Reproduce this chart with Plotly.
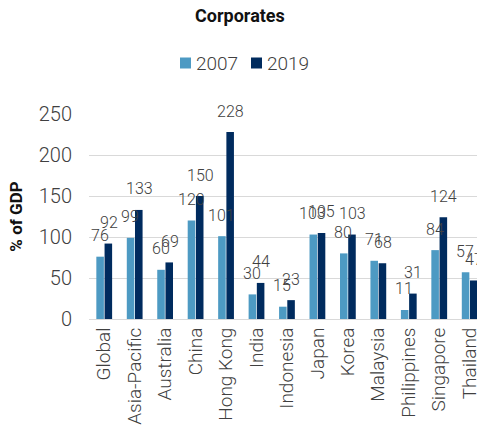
import plotly.graph_objects as go

categories = ["Global", "Asia-Pacific", "Australia", "China", "Hong Kong", "India",
              "Indonesia", "Japan", "Korea", "Malaysia", "Philippines", "Singapore", "Thailand"]
values_2007 = [76, 99, 60, 120, 101, 30, 15, 103, 80, 71, 11, 84, 57]
values_2019 = [92, 133, 69, 150, 228, 44, 23, 105, 103, 68, 31, 124, 47]
y_ticks = [0, 50, 100, 150, 200, 250]
series_names = ["2007", "2019"]

COL_2007 = "#4d9ac3"
COL_2019 = "#002b5e"
TEXT = "#404040"
FONT = "Roboto"
LIGHT = 300

# plot-area geometry (pixels)
FIG_W, FIG_H = 477, 436
L, R, T, B = 89, 0, 114, 117
PW, PH = FIG_W - L - R, FIG_H - T - B
x_lo, x_hi = -0.5, 12.24


def px_to_paper(px, py):
    return (px - L) / PW, (FIG_H - B - py) / PH


fig = go.Figure()
for name, vals, col in zip(series_names, [values_2007, values_2019], [COL_2007, COL_2019]):
    fig.add_trace(go.Bar(
        name=name, x=categories, y=vals, showlegend=False,
        marker=dict(color=col, line=dict(width=0)),
    ))

# value labels sit above each bar, centred on it
bar_off = 4.5
for vals, sgn in [(values_2007, -1), (values_2019, 1)]:
    for i, v in enumerate(vals):
        fig.add_annotation(
            x=categories[i], y=v, text=str(v), showarrow=False,
            xshift=sgn * bar_off, yshift=21, xanchor="center", yanchor="middle",
            font=dict(family=FONT, size=16, color=TEXT, weight=LIGHT),
        )

# legend: coloured square followed closely by the series name
legend_items = [(series_names[0], COL_2007, 180), (series_names[1], COL_2019, 251)]
leg_y = 63
for name, col, x0 in legend_items:
    ax0, ay0 = px_to_paper(x0, leg_y + 5.5)
    ax1, ay1 = px_to_paper(x0 + 11, leg_y - 5.5)
    fig.add_shape(type="rect", xref="paper", yref="paper", x0=ax0, x1=ax1, y0=ay0, y1=ay1,
                  fillcolor=col, line=dict(width=0))
    tx, ty = px_to_paper(x0 + 14, leg_y)
    fig.add_annotation(xref="paper", yref="paper", x=tx, y=ty, text=name, showarrow=False,
                       xanchor="left", yanchor="middle",
                       font=dict(family=FONT, size=19, color=TEXT, weight=LIGHT))

fig.update_layout(
    width=FIG_W, height=FIG_H,
    margin=dict(l=L, r=R, t=T, b=B, autoexpand=False),
    paper_bgcolor="white", plot_bgcolor="white",
    barmode="group", bargap=0.46, bargroupgap=0.08,
    font=dict(family=FONT, color=TEXT),
    showlegend=False,
    title=dict(text="<b>Corporates</b>", x=0.503, xanchor="center", y=0.963, yanchor="middle",
               font=dict(family=FONT, size=18, color="#111111")),
    xaxis=dict(
        range=[x_lo, x_hi], tickangle=-90, showgrid=False,
        showline=True, linecolor="#d9d9d9", linewidth=1, ticks="",
        tickfont=dict(family=FONT, size=19, color=TEXT, weight=LIGHT),
    ),
    yaxis=dict(
        range=[0, 250], tickvals=y_ticks, showgrid=True, gridcolor="#d9d9d9", gridwidth=1,
        zeroline=False, showline=False, ticks="", ticklabelstandoff=16,
        tickfont=dict(family=FONT, size=20, color=TEXT, weight=LIGHT),
        title=dict(text="<b>% of GDP</b>", font=dict(family=FONT, size=17, color="#111111"),
                   standoff=11),
    ),
)

fig.write_html("out.html")
